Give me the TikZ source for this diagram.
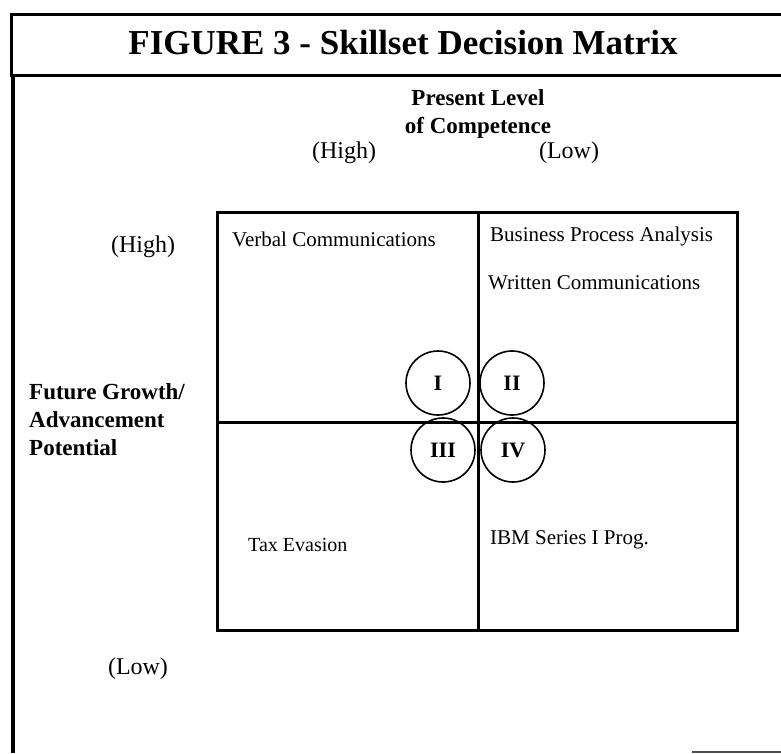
\documentclass[tikz,border=0pt]{standalone}
\usepackage{fontspec}
\setmainfont{Liberation Serif}
\begin{document}
\begin{tikzpicture}[x=1pt,y=-1pt,
  frame/.style={line width=3pt,black},
  grid/.style={line width=3pt,black},
  lbl/.style={font=\fontsize{21}{24}\selectfont,inner sep=0pt,anchor=west},
  axis/.style={font=\fontsize{24}{28}\selectfont,inner sep=0pt},
  head/.style={font=\bfseries\fontsize{23}{28}\selectfont,inner sep=0pt,align=center},
  side/.style={font=\bfseries\fontsize{23}{28}\selectfont,inner sep=0pt,align=left,anchor=west},
  quad/.style={circle,draw,line width=1.6pt,minimum size=64pt,inner sep=0pt,font=\bfseries\fontsize{22}{24}\selectfont}]
\useasboundingbox (0,0) rectangle (781,753);
% outer frame
\draw[frame] (781,14) -- (11,14) -- (11,75) -- (781,75);
\draw[line width=4pt] (13,75) -- (13,753);
\draw[line width=1.5pt,black!70] (692,752) -- (781,752);
% title
\node[font=\bfseries\fontsize{35}{40}\selectfont,inner sep=0pt] (title) at (403,43) {FIGURE 3 - Skillset Decision Matrix};
% headings
\node[head] (present) at (478,114) {Present Level\\of Competence};
\node[axis] (hhigh) at (344,153) {(High)};
\node[axis] (hlow) at (569,153) {(Low)};
\node[axis] (vhigh) at (143,247) {(High)};
\node[axis] (vlow) at (138,669) {(Low)};
\node[side] (future) at (29,420) {Future Growth/\\Advancement\\Potential};
% matrix
\coordinate (tl) at (217,212);
\coordinate (br) at (737,630);
\draw[grid] (tl) rectangle (br);
\draw[grid] (478,212) -- (478,630);
\draw[grid] (217,422) -- (737,422);
% quadrant circles
\node[quad,fill=white] (q1) at (438,383) {I};
\node[quad,fill=white] (q2) at (512,383) {II};
\node[quad,fill=white] (q3) at (443,450) {III};
\node[quad,fill=white] (q4) at (513,450) {IV};
\draw[grid] (478,351) -- (478,482);
\draw[grid] (400,422) -- (550,422);
% skills
\node[lbl] (verbal) at (232,239) {Verbal Communications};
\node[lbl] (bpa) at (490,236) {Business Process Analysis};
\node[lbl] (written) at (488,283) {Written Communications};
\node[lbl,font=\fontsize{20}{24}\selectfont] (tax) at (248,545) {Tax Evasion};
\node[lbl] (ibm) at (490,540) {IBM Series I Prog.};
\end{tikzpicture}
\end{document}
